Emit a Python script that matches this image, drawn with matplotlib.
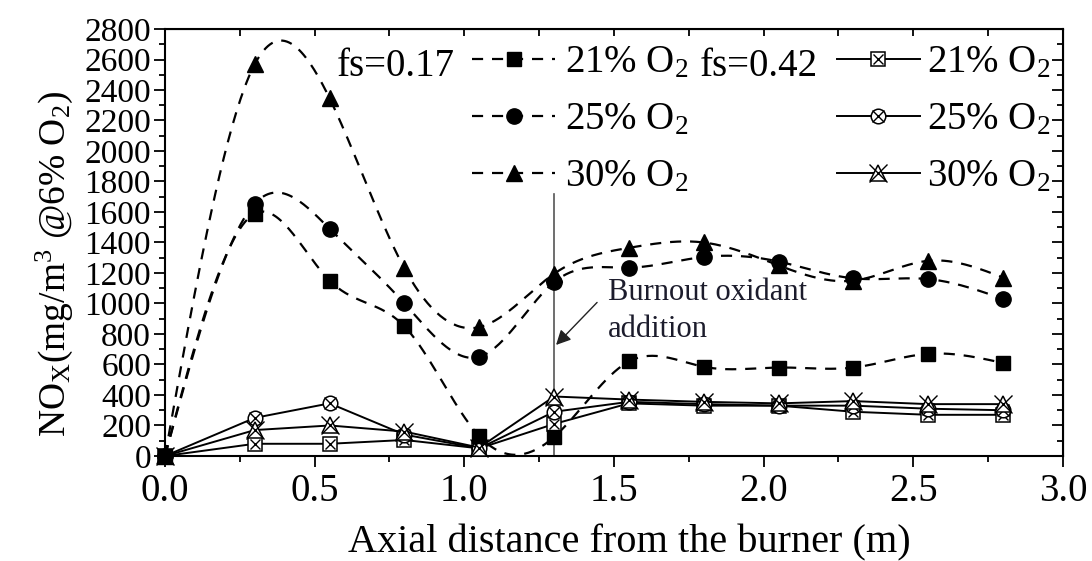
import numpy as np
import matplotlib
matplotlib.use("Agg")
import matplotlib.pyplot as plt
from matplotlib.lines import Line2D
from matplotlib.legend_handler import HandlerTuple
from matplotlib.ticker import MultipleLocator, FormatStrFormatter

plt.rcParams['font.family'] = ['Liberation Serif', 'DejaVu Serif']
plt.rcParams['mathtext.fontset'] = 'custom'
plt.rcParams['mathtext.rm'] = 'Liberation Serif'
plt.rcParams['mathtext.it'] = 'Liberation Serif:italic'
plt.rcParams['mathtext.bf'] = 'Liberation Serif:bold'

# axial distance from the burner (m)
dist = [0.0, 0.3, 0.55, 0.8, 1.05, 1.3, 1.55, 1.8, 2.05, 2.3, 2.55, 2.8]
o2_labels = ['21% O$_2$', '25% O$_2$', '30% O$_2$']

# fs = 0.17 (dashed, filled markers), NOx mg/m3 @6% O2
fs017_21 = [0, 1590, 1150, 850, 130, 125, 620, 585, 580, 580, 670, 610]
fs017_25 = [0, 1655, 1490, 1000, 650, 1140, 1235, 1305, 1275, 1165, 1160, 1030]
fs017_30 = [0, 2570, 2345, 1230, 845, 1195, 1365, 1400, 1250, 1150, 1280, 1170]

# fs = 0.42 (solid, open markers)
fs042_21 = [0, 80, 80, 105, 50, 210, 345, 330, 330, 290, 270, 270]
fs042_25 = [0, 250, 345, 140, 50, 290, 355, 340, 330, 330, 310, 300]
fs042_30 = [0, 170, 200, 160, 55, 390, 370, 355, 345, 360, 340, 340]

# burnout oxidant injection
burnout_x = 1.3
burnout_line_top = 1720


def natural_spline(x, y, num=400):
    """natural cubic spline through the points (Origin-style 'spline' connect)"""
    x = np.asarray(x, float)
    y = np.asarray(y, float)
    n = len(x)
    h = np.diff(x)
    A = np.zeros((n, n))
    b = np.zeros(n)
    A[0, 0] = A[-1, -1] = 1
    for i in range(1, n - 1):
        A[i, i - 1] = h[i - 1]
        A[i, i] = 2 * (h[i - 1] + h[i])
        A[i, i + 1] = h[i]
        b[i] = 6 * ((y[i + 1] - y[i]) / h[i] - (y[i] - y[i - 1]) / h[i - 1])
    M = np.linalg.solve(A, b)
    xs = np.linspace(x[0], x[-1], num)
    idx = np.clip(np.searchsorted(x, xs) - 1, 0, n - 2)
    x0, x1 = x[idx], x[idx + 1]
    hh = x1 - x0
    t0 = x1 - xs
    t1 = xs - x0
    ys = (M[idx] * t0 ** 3 + M[idx + 1] * t1 ** 3) / (6 * hh) \
        + (y[idx] / hh - M[idx] * hh / 6) * t0 + (y[idx + 1] / hh - M[idx + 1] * hh / 6) * t1
    return xs, ys


fig = plt.figure(figsize=(10.92, 5.61), dpi=100)
ax = fig.add_axes([0.1511, 0.1872, 0.8223, 0.7611])

dash = (0, (5, 4))
lw = 1.6

# fs=0.17 series
filled = [('s', 10), ('o', 11), ('^', 12)]
handles17 = []
for vals, (mk, ms) in zip([fs017_21, fs017_25, fs017_30], filled):
    xs, ys = natural_spline(dist, vals)
    ax.plot(xs, ys, color='k', ls=dash, lw=lw, zorder=2)
    ax.plot(dist, vals, ls='none', marker=mk, ms=ms, color='k', zorder=4, clip_on=False)
    handles17.append(Line2D([], [], color='k', ls=dash, lw=lw, marker=mk, ms=ms))

# fs=0.42 series
hollow = [('s', 10, 7.5), ('o', 10.5, 8), ('^', 11, 12.5)]
handles42 = []
for vals, (mk, ms, xs_) in zip([fs042_21, fs042_25, fs042_30], hollow):
    ax.plot(dist, vals, color='k', lw=1.4, marker=mk, ms=ms, mfc='white', mec='k', mew=1.1,
            zorder=3, clip_on=False)
    ax.plot(dist, vals, ls='none', marker='x', ms=xs_, mec='k', mew=1.0, zorder=3, clip_on=False)
    h_line = Line2D([], [], color='k', lw=1.4, marker=mk, ms=ms, mfc='white', mec='k', mew=1.1)
    h_x = Line2D([], [], ls='none', marker='x', ms=xs_, mec='k', mew=1.0)
    handles42.append((h_line, h_x))

# burnout oxidant addition marker
ax.plot([burnout_x, burnout_x], [0, burnout_line_top], color='#555555', lw=1.2, zorder=1)
ax.annotate('', xy=(burnout_x, 715), xytext=(1.45, 1020),
            arrowprops=dict(arrowstyle='-|>', color='#222222', lw=1.0, mutation_scale=22))
ax.text(1.48, 950, 'Burnout oxidant\naddition', fontsize=22, va='center', ha='left',
        linespacing=1.35, color='#1c1c2c')

# legends
leg1 = ax.legend(handles17, o2_labels, loc='center left', bbox_to_anchor=(0.342, 0.787),
                 frameon=False, fontsize=28, handlelength=2.13, handletextpad=0.26,
                 labelspacing=0.52, borderpad=0, borderaxespad=0)
ax.add_artist(leg1)
ax.legend(handles42, o2_labels, handler_map={tuple: HandlerTuple(ndivide=1, pad=0)},
          loc='center left', bbox_to_anchor=(0.748, 0.787),
          frameon=False, fontsize=28, handlelength=2.13, handletextpad=0.2,
          labelspacing=0.52, borderpad=0, borderaxespad=0)
ax.text(0.1915, 0.912, 'fs=0.17', transform=ax.transAxes, fontsize=28, va='center', ha='left')
ax.text(0.596, 0.912, 'fs=0.42', transform=ax.transAxes, fontsize=28, va='center', ha='left')

# axes
ax.set_xlim(0, 3.0)
ax.set_ylim(0, 2800)
ax.xaxis.set_major_locator(MultipleLocator(0.5))
ax.xaxis.set_minor_locator(MultipleLocator(0.25))
ax.xaxis.set_major_formatter(FormatStrFormatter('%.1f'))
ax.yaxis.set_major_locator(MultipleLocator(200))
ax.yaxis.set_minor_locator(MultipleLocator(100))
ax.tick_params(which='major', direction='out', length=8, width=1.3)
ax.tick_params(which='minor', direction='out', length=4.5, width=1.3)
ax.tick_params(axis='x', labelsize=28, pad=4)
ax.tick_params(axis='y', labelsize=24, pad=2)
for sp in ax.spines.values():
    sp.set_linewidth(1.5)

top = ax.secondary_xaxis('top')
top.xaxis.set_major_locator(MultipleLocator(0.5))
top.xaxis.set_minor_locator(MultipleLocator(0.25))
top.tick_params(which='both', direction='in', labeltop=False, length=5, width=1.3)
right = ax.secondary_yaxis('right')
right.yaxis.set_major_locator(MultipleLocator(200))
right.yaxis.set_minor_locator(MultipleLocator(100))
right.tick_params(which='major', direction='in', labelright=False, length=8, width=1.3)
right.tick_params(which='minor', direction='in', labelright=False, length=4.5, width=1.3)

fig.text(0.5765, 0.032, 'Axial distance from the burner (m)', fontsize=29, ha='center', va='center')
fig.text(0.05, 0.53, r'NO$_\mathrm{X}$(mg/m$^3$ @6% O$_2$)', fontsize=27, ha='center', va='center',
         rotation=90)

fig.savefig('out.png', dpi=100)
